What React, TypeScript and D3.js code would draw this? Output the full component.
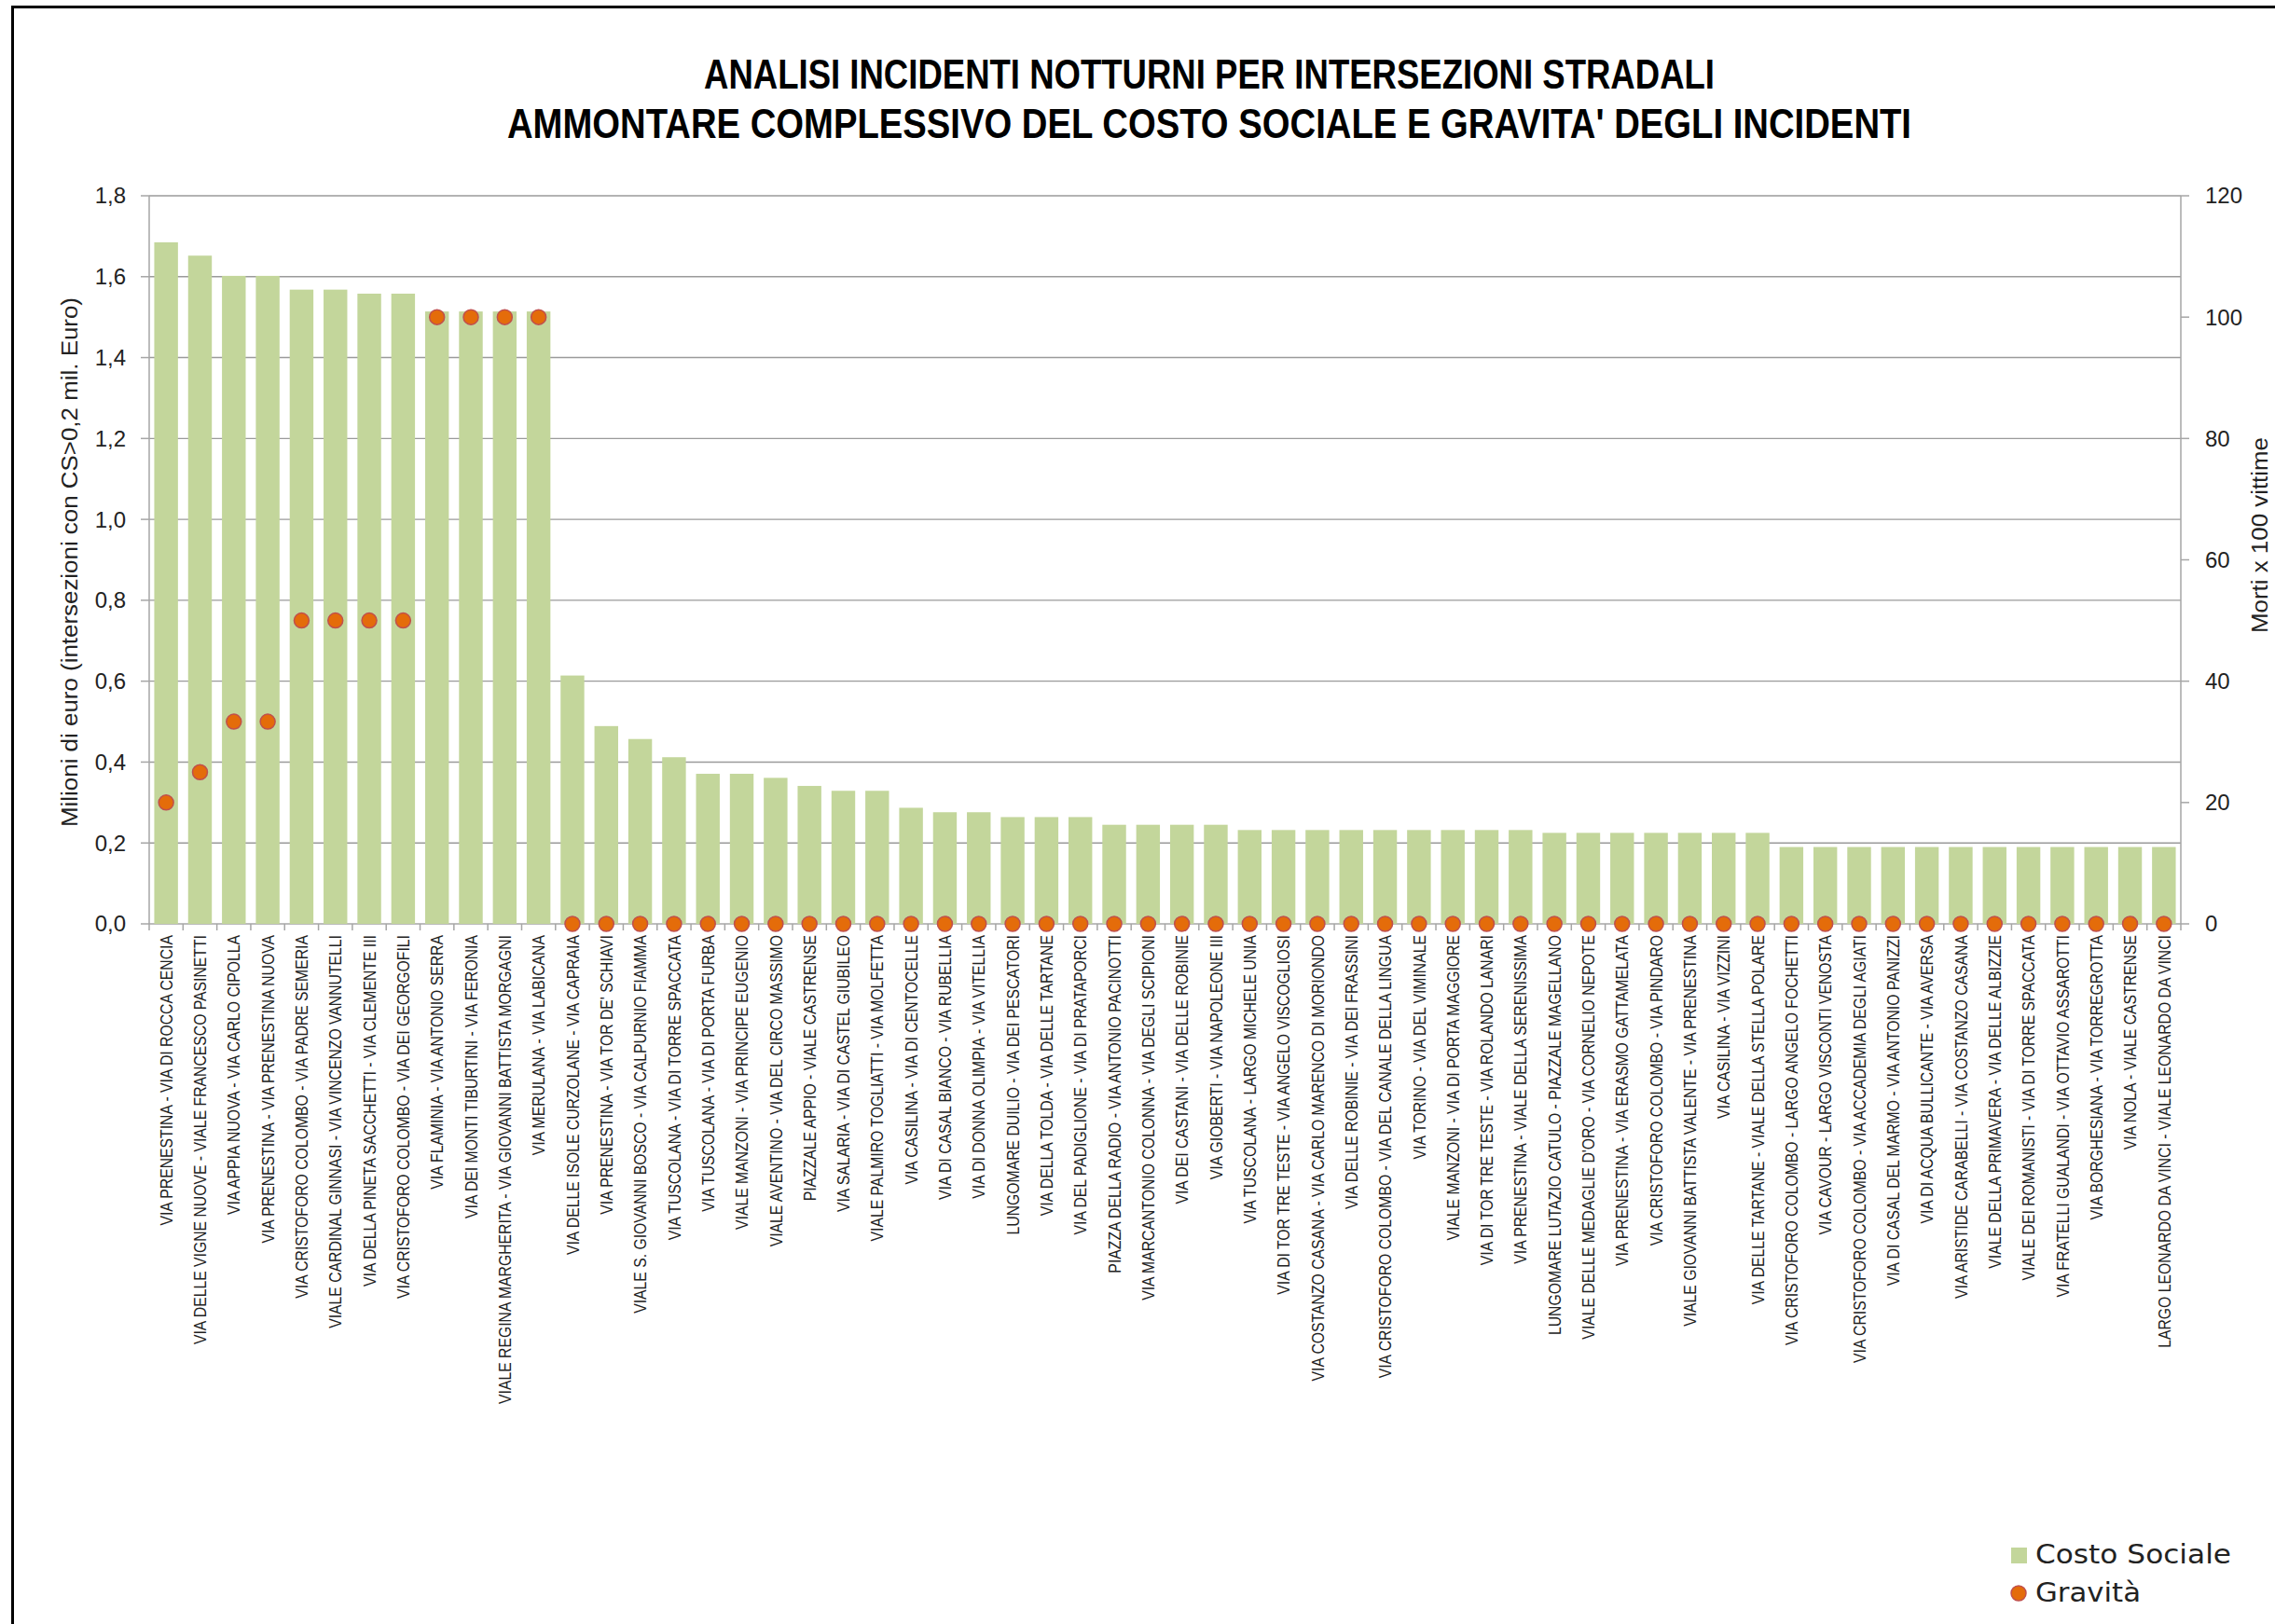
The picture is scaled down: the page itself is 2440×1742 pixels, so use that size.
import React from 'react';
import * as d3 from 'd3';

const categories = [
  'VIA PRENESTINA - VIA DI ROCCA CENCIA',
  'VIA DELLE VIGNE NUOVE - VIALE FRANCESCO PASINETTI',
  'VIA APPIA NUOVA - VIA CARLO CIPOLLA',
  'VIA PRENESTINA - VIA PRENESTINA NUOVA',
  'VIA CRISTOFORO COLOMBO - VIA PADRE SEMERIA',
  'VIALE CARDINAL GINNASI - VIA VINCENZO VANNUTELLI',
  'VIA DELLA PINETA SACCHETTI - VIA CLEMENTE III',
  'VIA CRISTOFORO COLOMBO - VIA DEI GEORGOFILI',
  'VIA FLAMINIA - VIA ANTONIO SERRA',
  'VIA DEI MONTI TIBURTINI - VIA FERONIA',
  'VIALE REGINA MARGHERITA - VIA GIOVANNI BATTISTA MORGAGNI',
  'VIA MERULANA - VIA LABICANA',
  'VIA DELLE ISOLE CURZOLANE - VIA CAPRAIA',
  "VIA PRENESTINA - VIA TOR DE' SCHIAVI",
  'VIALE S. GIOVANNI BOSCO - VIA CALPURNIO FIAMMA',
  'VIA TUSCOLANA - VIA DI TORRE SPACCATA',
  'VIA TUSCOLANA - VIA DI PORTA FURBA',
  'VIALE MANZONI - VIA PRINCIPE EUGENIO',
  'VIALE AVENTINO - VIA DEL CIRCO MASSIMO',
  'PIAZZALE APPIO - VIALE CASTRENSE',
  'VIA SALARIA - VIA DI CASTEL GIUBILEO',
  'VIALE PALMIRO TOGLIATTI - VIA MOLFETTA',
  'VIA CASILINA - VIA DI CENTOCELLE',
  'VIA DI CASAL BIANCO - VIA RUBELLIA',
  'VIA DI DONNA OLIMPIA - VIA VITELLIA',
  'LUNGOMARE DUILIO - VIA DEI PESCATORI',
  'VIA DELLA TOLDA - VIA DELLE TARTANE',
  'VIA DEL PADIGLIONE - VIA DI PRATAPORCI',
  'PIAZZA DELLA RADIO - VIA ANTONIO PACINOTTI',
  'VIA MARCANTONIO COLONNA - VIA DEGLI SCIPIONI',
  'VIA DEI CASTANI - VIA DELLE ROBINIE',
  'VIA GIOBERTI - VIA NAPOLEONE III',
  'VIA TUSCOLANA - LARGO MICHELE UNIA',
  'VIA DI TOR TRE TESTE - VIA ANGELO VISCOGLIOSI',
  'VIA COSTANZO CASANA - VIA CARLO MARENCO DI MORIONDO',
  'VIA DELLE ROBINIE - VIA DEI FRASSINI',
  'VIA CRISTOFORO COLOMBO - VIA DEL CANALE DELLA LINGUA',
  'VIA TORINO - VIA DEL VIMINALE',
  'VIALE MANZONI - VIA DI PORTA MAGGIORE',
  'VIA DI TOR TRE TESTE - VIA ROLANDO LANARI',
  'VIA PRENESTINA - VIALE DELLA SERENISSIMA',
  'LUNGOMARE LUTAZIO CATULO - PIAZZALE MAGELLANO',
  "VIALE DELLE MEDAGLIE D'ORO - VIA CORNELIO NEPOTE",
  'VIA PRENESTINA - VIA ERASMO GATTAMELATA',
  'VIA CRISTOFORO COLOMBO - VIA PINDARO',
  'VIALE GIOVANNI BATTISTA VALENTE - VIA PRENESTINA',
  'VIA CASILINA - VIA VIZZINI',
  'VIA DELLE TARTANE - VIALE DELLA STELLA POLARE',
  'VIA CRISTOFORO COLOMBO - LARGO ANGELO FOCHETTI',
  'VIA CAVOUR - LARGO VISCONTI VENOSTA',
  'VIA CRISTOFORO COLOMBO - VIA ACCADEMIA DEGLI AGIATI',
  'VIA DI CASAL DEL MARMO - VIA ANTONIO PANIZZI',
  'VIA DI ACQUA BULLICANTE - VIA AVERSA',
  'VIA ARISTIDE CARABELLI - VIA COSTANZO CASANA',
  'VIALE DELLA PRIMAVERA - VIA DELLE ALBIZZIE',
  'VIALE DEI ROMANISTI - VIA DI TORRE SPACCATA',
  'VIA FRATELLI GUALANDI - VIA OTTAVIO ASSAROTTI',
  'VIA BORGHESIANA - VIA TORREGROTTA',
  'VIA NOLA - VIALE CASTRENSE',
  'LARGO LEONARDO DA VINCI - VIALE LEONARDO DA VINCI',
];

const costoSociale = [
  1.685, 1.652, 1.602, 1.602, 1.568, 1.568, 1.558, 1.558, 1.514, 1.514, 1.514, 1.514,
  0.614, 0.489, 0.457, 0.412, 0.371, 0.371, 0.361, 0.341, 0.329, 0.329, 0.287, 0.276,
  0.276, 0.264, 0.264, 0.264, 0.245, 0.245, 0.245, 0.245, 0.232, 0.232, 0.232, 0.232,
  0.232, 0.232, 0.232, 0.232, 0.232, 0.225, 0.225, 0.225, 0.225, 0.225, 0.225, 0.225,
  0.19, 0.19, 0.19, 0.19, 0.19, 0.19, 0.19, 0.19, 0.19, 0.19, 0.19, 0.19,
];

const gravita = [
  20, 25, 33.33, 33.33, 50, 50, 50, 50, 100, 100, 100, 100,
  0, 0, 0, 0, 0, 0, 0, 0, 0, 0, 0, 0,
  0, 0, 0, 0, 0, 0, 0, 0, 0, 0, 0, 0,
  0, 0, 0, 0, 0, 0, 0, 0, 0, 0, 0, 0,
  0, 0, 0, 0, 0, 0, 0, 0, 0, 0, 0, 0,
];

const leftTickValues = [0, 0.2, 0.4, 0.6, 0.8, 1.0, 1.2, 1.4, 1.6, 1.8];
const rightTickValues = [0, 20, 40, 60, 80, 100, 120];

const titleLines = [
  'ANALISI INCIDENTI NOTTURNI PER INTERSEZIONI STRADALI',
  "AMMONTARE COMPLESSIVO DEL COSTO SOCIALE E GRAVITA' DEGLI INCIDENTI",
];
const leftAxisTitle = 'Milioni di euro  (intersezioni  con CS>0,2 mil. Euro)';
const rightAxisTitle = 'Morti x 100 vittime';
const legendLabels = ['Costo Sociale', 'Gravità'];

export default function App() {
  const W = 2440;
  const H = 1742;
  const left = 160;
  const right = 2339;
  const top = 210;
  const bottom = 991;

  const x = d3
    .scaleBand<string>()
    .domain(categories)
    .range([left, right])
    .paddingInner(0.3)
    .paddingOuter(0.15);
  const step = x.step();
  const yL = d3.scaleLinear().domain([0, 1.8]).range([bottom, top]);
  const yR = d3.scaleLinear().domain([0, 120]).range([bottom, top]);
  const fmt = (v: number) => d3.format('.1f')(v).replace('.', ',');

  const green = '#c3d69b';
  const grid = '#9a9a9a';
  const axisCol = '#a6a6a6';
  const textCol = '#222';
  const font = "'Liberation Sans', Arial, sans-serif";

  return (
    <svg
      width={W}
      height={H}
      viewBox={`0 0 ${W} ${H}`}
      style={{ position: 'absolute', left: 0, top: 0, display: 'block', background: '#fff' }}
    >
      <rect x={0} y={0} width={W} height={H} fill="#fff" />
      <rect x={13.5} y={7.5} width={W + 20} height={H + 20} fill="none" stroke="#000" strokeWidth={3} />

      {/* title */}
      {titleLines.map((t, i) => (
        <text
          key={i}
          x={1297}
          y={i === 0 ? 95 : 148}
          textAnchor="middle"
          fontFamily={font}
          fontWeight="bold"
          fontSize={44}
          fill="#000"
          textLength={i === 0 ? 1084 : 1506}
          lengthAdjust="spacingAndGlyphs"
        >
          {t}
        </text>
      ))}

      {/* gridlines */}
      {leftTickValues.map((v) => (
        <line key={'g' + v} x1={left} x2={right} y1={yL(v)} y2={yL(v)} stroke={v === 0 ? axisCol : grid} strokeWidth={1.4} />
      ))}

      {/* left axis */}
      <line x1={left} x2={left} y1={top} y2={bottom} stroke={axisCol} strokeWidth={1.5} />
      {leftTickValues.map((v) => (
        <g key={'lt' + v}>
          <line x1={left - 9} x2={left} y1={yL(v)} y2={yL(v)} stroke={axisCol} strokeWidth={1.5} />
          <text x={135} y={yL(v)} dy="0.35em" textAnchor="end" fontFamily={font} fontSize={24} fill={textCol}>
            {fmt(v)}
          </text>
        </g>
      ))}

      {/* right axis */}
      <line x1={right} x2={right} y1={top} y2={bottom} stroke={axisCol} strokeWidth={1.5} />
      {rightTickValues.map((v) => (
        <g key={'rt' + v}>
          <line x1={right} x2={right + 9} y1={yR(v)} y2={yR(v)} stroke={axisCol} strokeWidth={1.5} />
          <text x={2365} y={yR(v)} dy="0.35em" textAnchor="start" fontFamily={font} fontSize={24} fill={textCol}>
            {v}
          </text>
        </g>
      ))}

      {/* bars */}
      {categories.map((c, i) => (
        <rect key={'b' + i} x={x(c)} y={yL(costoSociale[i])} width={x.bandwidth()} height={bottom - yL(costoSociale[i])} fill={green} />
      ))}

      {/* x axis ticks */}
      {d3.range(categories.length + 1).map((i) => (
        <line key={'xt' + i} x1={left + i * step} x2={left + i * step} y1={bottom} y2={bottom + 7} stroke={axisCol} strokeWidth={1.5} />
      ))}

      {/* dots */}
      {categories.map((c, i) => (
        <circle
          key={'d' + i}
          cx={(x(c) as number) + x.bandwidth() / 2}
          cy={yR(gravita[i])}
          r={8}
          fill="#e46c0a"
          stroke="#c0504d"
          strokeWidth={1.5}
        />
      ))}

      {/* category labels */}
      {categories.map((c, i) => (
        <g key={'l' + i} transform={`translate(${(x(c) as number) + x.bandwidth() / 2},${1003}) rotate(-90)`}>
          <text
            transform="scale(0.83,1)"
            textAnchor="end"
            dy="0.35em"
            fontFamily={font}
            fontSize={19}
            fill={textCol}
          >
            {c}
          </text>
        </g>
      ))}

      {/* axis titles */}
      <text
        transform={`translate(75,603) rotate(-90)`}
        textAnchor="middle"
        dy="0.35em"
        fontFamily={font}
        fontSize={23}
        fill={textCol}
        textLength={568}
        lengthAdjust="spacingAndGlyphs"
      >
        {leftAxisTitle}
      </text>
      <text
        transform={`translate(2424,574) rotate(-90)`}
        textAnchor="middle"
        dy="0.35em"
        fontFamily={font}
        fontSize={23}
        fill={textCol}
        textLength={210}
        lengthAdjust="spacingAndGlyphs"
      >
        {rightAxisTitle}
      </text>

      {/* legend */}
      <rect x={2157} y={1660} width={17} height={17} fill={green} />
      <text x={2183} y={1677} fontFamily="'DejaVu Sans', sans-serif" fontSize={29} fill={textCol} textLength={210} lengthAdjust="spacingAndGlyphs">
        {legendLabels[0]}
      </text>
      <circle cx={2165} cy={1709} r={8} fill="#e46c0a" stroke="#c0504d" strokeWidth={1.5} />
      <text x={2183} y={1718} fontFamily="'DejaVu Sans', sans-serif" fontSize={29} fill={textCol} textLength={113} lengthAdjust="spacingAndGlyphs">
        {legendLabels[1]}
      </text>
    </svg>
  );
}
